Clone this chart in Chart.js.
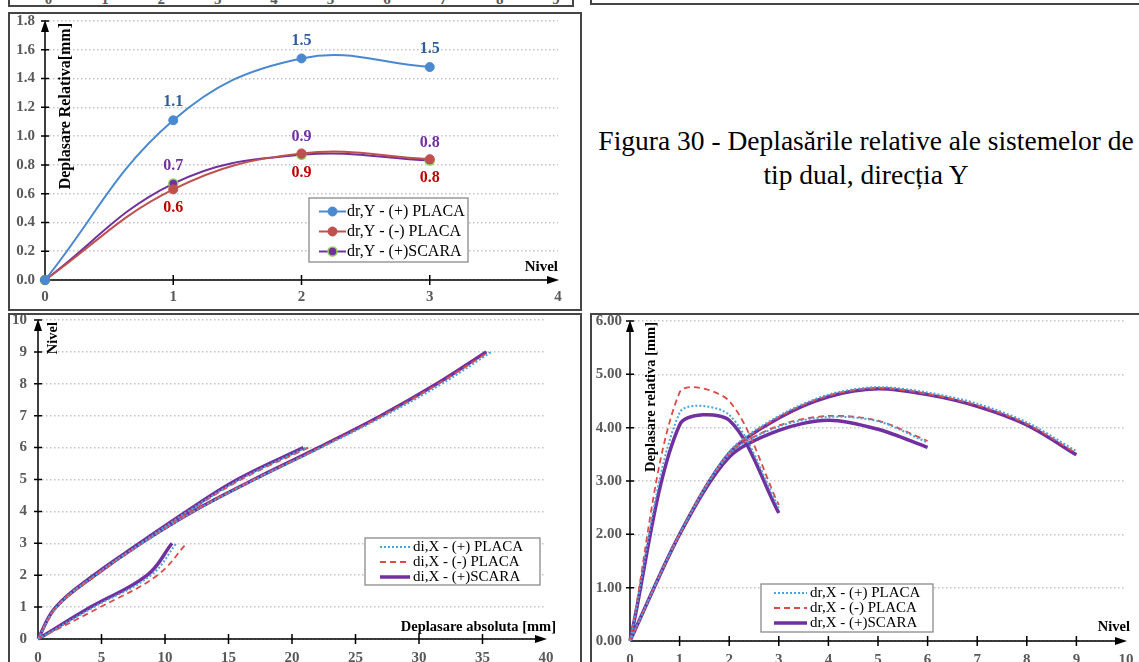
<!DOCTYPE html>
<html>
<head>
<meta charset="utf-8">
<script src="https://cdn.jsdelivr.net/npm/chart.js@4.4.1/dist/chart.umd.min.js"></script>
<style>
  html, body { margin: 0; padding: 0; background: #fff; }
  body { width: 1139px; height: 662px; overflow: hidden; position: relative;
         font-family: "Liberation Serif", "Times New Roman", serif; }
  .frame { position: absolute; border: 2px solid #454545; box-sizing: border-box; background: #fff; overflow: hidden; }
  .frame canvas { position: absolute; left: 0; top: 0; }
  .strip-tick { position: absolute; font: bold 15px "Liberation Serif", serif; color: #595959;
                transform: translateX(-50%); line-height: 16px; }
  #caption { position: absolute; left: 590px; width: 552px; top: 124px; text-align: center;
             font-size: 27.5px; line-height: 34px; color: #000; }
</style>
</head>
<body>
<div class="frame" id="stripL" style="left:8px; top:-40px; width:566px; height:47px;"></div>
<div class="frame" style="left:590px; top:-40px; width:560px; height:45px;"></div>

<div class="frame" style="left:8px; top:12px; width:574px; height:299px;">
  <canvas id="chartDrY" width="570" height="295"></canvas>
</div>
<div id="caption">Figura 30 - Deplasările relative ale sistemelor de<br>tip dual, direcția Y</div>

<div class="frame" style="left:8px; top:313px; width:574px; height:400px;">
  <canvas id="chartDiX" width="570" height="360"></canvas>
</div>
<div class="frame" style="left:590px; top:313px; width:560px; height:400px;">
  <canvas id="chartDrX" width="556" height="360"></canvas>
</div>

<script>
// ---- data ----
// axis labels of the chart cut off above
const stripTicks = ['0', '1', '2', '3', '4', '5', '6', '7', '8', '9'];

// relative drift, direction Y
const nivelY = [0, 1, 2, 3];
const drYPlusPlaca = [0, 1.11, 1.54, 1.48];
const drYMinusPlaca = [0, 0.63, 0.88, 0.84];
const drYPlusScara = [0, 0.67, 0.87, 0.83];
const drYTicksX = [0, 1, 2, 3, 4];
const drYTicksY = [0, 0.2, 0.4, 0.6, 0.8, 1.0, 1.2, 1.4, 1.6, 1.8];

// absolute displacement, direction X (3, 6 and 9 levels)
const nivel3 = [0, 1, 2, 3];
const nivel6 = [0, 1, 2, 3, 4, 5, 6];
const nivel9 = [0, 1, 2, 3, 4, 5, 6, 7, 8, 9];
const diPlus3 = [0, 4.4, 8.9, 10.9];
const diMinus3 = [0, 4.9, 9.4, 11.7];
const diScara3 = [0, 4.15, 8.6, 10.55];
const diPlus6 = [0, 1.45, 4.5, 8.1, 11.8, 15.9, 21.1];
const diMinus6 = [0, 1.5, 4.6, 8.2, 11.9, 16.0, 21.3];
const diScara6 = [0, 1.4, 4.4, 8.0, 11.7, 15.7, 20.9];
const diPlus9 = [0, 1.45, 4.5, 8.2, 12.3, 17.1, 22.3, 27.3, 31.8, 35.7];
const diMinus9 = [0, 1.45, 4.5, 8.2, 12.2, 17.0, 22.2, 27.1, 31.5, 35.5];
const diScara9 = [0, 1.4, 4.5, 8.1, 12.2, 17.0, 22.1, 27.0, 31.4, 35.3];
const diTicksX = [0, 5, 10, 15, 20, 25, 30, 35, 40];
const diTicksY = [0, 1, 2, 3, 4, 5, 6, 7, 8, 9, 10];

// relative drift, direction X
const drPlus3 = [0, 4.28, 4.24, 2.5];
const drMinus3 = [0, 4.66, 4.5, 2.55];
const drScara3 = [0, 4.05, 4.14, 2.4];
const drPlus6 = [0, 2.0, 3.5, 4.02, 4.2, 4.12, 3.72];
const drMinus6 = [0, 2.0, 3.5, 4.04, 4.22, 4.13, 3.75];
const drScara6 = [0, 2.0, 3.45, 3.95, 4.14, 3.97, 3.63];
const drPlus9 = [0, 2.0, 3.55, 4.22, 4.62, 4.76, 4.66, 4.45, 4.1, 3.56];
const drMinus9 = [0, 2.0, 3.52, 4.2, 4.6, 4.74, 4.63, 4.42, 4.07, 3.52];
const drScara9 = [0, 2.0, 3.52, 4.18, 4.58, 4.73, 4.62, 4.40, 4.05, 3.49];
const drTicksX = [0, 1, 2, 3, 4, 5, 6, 7, 8, 9, 10];
const drTicksY = [0, 1, 2, 3, 4, 5, 6];

// ---- helpers ----
const SERIF = '"Liberation Serif", "Times New Roman", serif';
Chart.defaults.font.family = SERIF;
Chart.defaults.color = '#595959';

const BLUE = '#4a89cf', RED = '#c0504d', PURPLE = '#7030a0';
const DOT_BLUE = '#4ba3db', DASH_RED = '#dc4b45';

const pts = (xs, ys) => xs.map((x, i) => ({ x, y: ys[i] }));
// several runs in one dataset, split by a gap
const runs = (...parts) => {
    const out = [];
    parts.forEach((p, k) => {
        if (k) out.push({ x: null, y: null });
        out.push(...p);
    });
    return out;
};

const tickFont = { size: 15, weight: 'bold' };

const makeScales = (cfg) => ({
    x: {
        type: 'linear', min: cfg.xTicks[0], max: cfg.xTicks[cfg.xTicks.length - 1],
        afterBuildTicks: s => { s.ticks = cfg.xTicks.map(v => ({ value: v })); },
        grid: { display: false, drawTicks: false },
        border: { display: false },
        ticks: { font: tickFont, color: '#595959', padding: cfg.xPad, autoSkip: false, maxRotation: 0,
                 callback: v => cfg.xFmt(v) },
        afterFit: s => { s.height = cfg.xHeight; s.paddingLeft = 0; s.paddingRight = 0; }
    },
    y: {
        type: 'linear', min: cfg.yTicks[0], max: cfg.yTicks[cfg.yTicks.length - 1],
        afterBuildTicks: s => { s.ticks = cfg.yTicks.map(v => ({ value: v })); },
        grid: { color: '#c3c3c3', lineWidth: 1.5, drawTicks: false },
        border: { display: false, dash: [1.5, 2.5] },
        ticks: { font: tickFont, color: '#595959', padding: cfg.yPad, autoSkip: false,
                 callback: v => cfg.yFmt(v) },
        afterFit: s => { s.width = cfg.yWidth; s.paddingTop = 0; s.paddingBottom = 0; }
    }
});

// black axes through the origin, with arrow heads, tick crosses and titles inside the plot
const arrowAxes = {
    id: 'arrowAxes',
    beforeDatasetsDraw(chart, args, o) {
        const { ctx, chartArea: a, scales: { x, y } } = chart;
        const x0 = x.getPixelForValue(0), y0 = y.getPixelForValue(0);
        ctx.save();
        ctx.strokeStyle = '#000';
        ctx.fillStyle = '#000';
        ctx.lineWidth = 1.5;
        ctx.beginPath();
        ctx.moveTo(x0, y0); ctx.lineTo(a.right - 6, y0);
        ctx.moveTo(x0, y0); ctx.lineTo(x0, a.top + 6);
        y.ticks.forEach(t => {
            if (t.value === 0) return;
            const p = y.getPixelForValue(t.value);
            ctx.moveTo(x0 - 4, p); ctx.lineTo(x0 + 4, p);
        });
        x.ticks.forEach(t => {
            if (t.value === 0 || t.value === x.max) return;
            const p = x.getPixelForValue(t.value);
            ctx.moveTo(p, y0 - 5); ctx.lineTo(p, y0 + 5);
        });
        ctx.stroke();

        ctx.beginPath();
        ctx.moveTo(a.right + 1, y0); ctx.lineTo(a.right - 11, y0 - 4); ctx.lineTo(a.right - 11, y0 + 4);
        ctx.closePath();
        ctx.moveTo(x0, a.top - 1); ctx.lineTo(x0 - 4, a.top + 11); ctx.lineTo(x0 + 4, a.top + 11);
        ctx.closePath();
        ctx.fill();

        ctx.font = `bold ${o.titleSize}px ${SERIF}`;
        ctx.textBaseline = 'middle';
        ctx.textAlign = 'right';
        ctx.fillText(o.xTitle, a.right + o.xTitleDx, y0 - o.xTitleDy);
        ctx.translate(x0 + o.yTitleDx, a.top + o.yTitleDy);
        ctx.rotate(-Math.PI / 2);
        ctx.font = `bold ${o.yTitleSize || o.titleSize}px ${SERIF}`;
        ctx.fillText(o.yTitle, 0, 0);
        ctx.restore();
    }
};

// legend in a framed box inside the plot
const boxLegend = {
    id: 'boxLegend',
    afterDraw(chart, args, o) {
        const ctx = chart.ctx;
        ctx.save();
        ctx.fillStyle = '#fff';
        ctx.strokeStyle = '#8a8a8a';
        ctx.lineWidth = 1.3;
        ctx.fillRect(o.left, o.top, o.width, o.height);
        ctx.strokeRect(o.left, o.top, o.width, o.height);
        ctx.font = `${o.fontSize}px ${SERIF}`;
        ctx.textBaseline = 'middle';
        ctx.textAlign = 'left';
        chart.data.datasets.forEach((ds, i) => {
            const yy = o.top + o.firstRow + i * o.rowHeight;
            const sx = o.left + o.sampleX;
            ctx.strokeStyle = ds.borderColor;
            ctx.lineWidth = ds.borderWidth;
            ctx.setLineDash(ds.borderDash || []);
            ctx.beginPath();
            ctx.moveTo(sx, yy); ctx.lineTo(sx + o.sampleW, yy);
            ctx.stroke();
            ctx.setLineDash([]);
            if (ds.pointRadius) {
                ctx.beginPath();
                ctx.arc(sx + o.sampleW / 2, yy, ds.pointRadius, 0, Math.PI * 2);
                ctx.fillStyle = ds.pointBackgroundColor;
                ctx.fill();
                ctx.lineWidth = ds.pointBorderWidth;
                ctx.strokeStyle = ds.pointBorderColor;
                ctx.stroke();
            }
            ctx.fillStyle = '#000';
            ctx.fillText(ds.label, o.left + o.textX, yy);
        });
        ctx.restore();
    }
};

// value labels above / below the points
const pointValues = {
    id: 'pointValues',
    afterDatasetsDraw(chart) {
        const ctx = chart.ctx;
        ctx.save();
        ctx.font = `bold 16px ${SERIF}`;
        ctx.textAlign = 'center';
        ctx.textBaseline = 'middle';
        chart.data.datasets.forEach((ds, i) => {
            if (!ds.valueLabel) return;
            ctx.fillStyle = ds.valueLabel.color;
            chart.getDatasetMeta(i).data.forEach((el, j) => {
                const v = ds.data[j].y;
                if (!v) return;
                ctx.fillText(v.toFixed(1), el.x, el.y + ds.valueLabel.dy);
            });
        });
        ctx.restore();
    }
};

const baseOptions = {
    responsive: false,
    animation: false,
    devicePixelRatio: 1,
    events: [],
    elements: { point: { radius: 0 } }
};

// ---- strip of the chart above ----
const strip = document.getElementById('stripL');
stripTicks.forEach((t, i) => {
    const s = document.createElement('span');
    s.className = 'strip-tick';
    s.textContent = t;
    s.style.left = (38.5 + 56.4 * i) + 'px';
    s.style.top = '29px';
    strip.appendChild(s);
});

// ---- dr,Y ----
new Chart(document.getElementById('chartDrY'), {
    type: 'line',
    data: {
        datasets: [
            { label: 'dr,Y - (+) PLACA', data: pts(nivelY, drYPlusPlaca), borderColor: BLUE, borderWidth: 2,
              pointRadius: 4.5, pointBackgroundColor: BLUE, pointBorderColor: BLUE, pointBorderWidth: 1,
              tension: 0.4, clip: false, valueLabel: { color: '#2f5d9b', dy: -18 } },
            { label: 'dr,Y - (-) PLACA', data: pts(nivelY, drYMinusPlaca), borderColor: RED, borderWidth: 2,
              pointRadius: 4.5, pointBackgroundColor: RED, pointBorderColor: RED, pointBorderWidth: 1,
              tension: 0.4, clip: false, valueLabel: { color: '#c00000', dy: 19 } },
            { label: 'dr,Y - (+)SCARA', data: pts(nivelY, drYPlusScara), borderColor: PURPLE, borderWidth: 2,
              pointRadius: 4.5, pointBackgroundColor: PURPLE, pointBorderColor: '#92d050', pointBorderWidth: 1.5,
              tension: 0.4, clip: false, valueLabel: { color: PURPLE, dy: -18 } }
        ]
    },
    options: {
        ...baseOptions,
        layout: { padding: { top: 7, right: 22, left: 0, bottom: 0 } },
        scales: makeScales({
            xTicks: drYTicksX, yTicks: drYTicksY, xFmt: v => String(v), yFmt: v => v.toFixed(1),
            xHeight: 29, yWidth: 35, xPad: 8, yPad: 10
        }),
        plugins: {
            legend: { display: false }, tooltip: { enabled: false },
            arrowAxes: { xTitle: 'Nivel', yTitle: 'Deplasare Relativa[mm]', titleSize: 15, yTitleSize: 16,
                         xTitleDx: 0, xTitleDy: 13, yTitleDx: 21, yTitleDy: 2 },
            boxLegend: { left: 299, top: 184, width: 159, height: 64, firstRow: 13.5, rowHeight: 20,
                         sampleX: 10, sampleW: 27, textX: 38, fontSize: 16 }
        }
    },
    plugins: [arrowAxes, pointValues, boxLegend]
});

// ---- di,X ----
new Chart(document.getElementById('chartDiX'), {
    type: 'line',
    data: {
        datasets: [
            { label: 'di,X - (+) PLACA', data: runs(pts(diPlus3, nivel3), pts(diPlus6, nivel6), pts(diPlus9, nivel9)),
              borderColor: DOT_BLUE, borderWidth: 2, borderDash: [2, 2], tension: 0.4, clip: false, order: 1 },
            { label: 'di,X - (-) PLACA', data: runs(pts(diMinus3, nivel3), pts(diMinus6, nivel6), pts(diMinus9, nivel9)),
              borderColor: DASH_RED, borderWidth: 1.8, borderDash: [6, 4], tension: 0.4, clip: false, order: 2 },
            { label: 'di,X - (+)SCARA', data: runs(pts(diScara3, nivel3), pts(diScara6, nivel6), pts(diScara9, nivel9)),
              borderColor: PURPLE, borderWidth: 3.5, tension: 0.4, clip: false, order: 3 }
        ]
    },
    options: {
        ...baseOptions,
        layout: { padding: { top: 5, right: 34, left: 0, bottom: 0 } },
        scales: makeScales({
            xTicks: diTicksX, yTicks: diTicksY, xFmt: v => String(v), yFmt: v => String(v),
            xHeight: 36, yWidth: 28, xPad: 10, yPad: 11
        }),
        plugins: {
            legend: { display: false }, tooltip: { enabled: false },
            arrowAxes: { xTitle: 'Deplasare absoluta [mm]', yTitle: 'Nivel', titleSize: 14.5,
                         xTitleDx: 10, xTitleDy: 12, yTitleDx: 15, yTitleDy: 2 },
            boxLegend: { left: 355, top: 223, width: 175, height: 47, firstRow: 9, rowHeight: 15,
                         sampleX: 15, sampleW: 30, textX: 48, fontSize: 15 }
        }
    },
    plugins: [arrowAxes, boxLegend]
});

// ---- dr,X ----
new Chart(document.getElementById('chartDrX'), {
    type: 'line',
    data: {
        datasets: [
            { label: 'dr,X - (+) PLACA', data: runs(pts(nivel3, drPlus3), pts(nivel6, drPlus6), pts(nivel9, drPlus9)),
              borderColor: DOT_BLUE, borderWidth: 2, borderDash: [2, 2], tension: 0.3, clip: false, order: 1 },
            { label: 'dr,X - (-) PLACA', data: runs(pts(nivel3, drMinus3), pts(nivel6, drMinus6), pts(nivel9, drMinus9)),
              borderColor: DASH_RED, borderWidth: 1.8, borderDash: [6, 4], tension: 0.3, clip: false, order: 2 },
            { label: 'dr,X - (+)SCARA', data: runs(pts(nivel3, drScara3), pts(nivel6, drScara6), pts(nivel9, drScara9)),
              borderColor: PURPLE, borderWidth: 3.5, tension: 0.3, clip: false, order: 3 }
        ]
    },
    options: {
        ...baseOptions,
        layout: { padding: { top: 6, right: 22, left: 0, bottom: 0 } },
        scales: makeScales({
            xTicks: drTicksX, yTicks: drTicksY, xFmt: v => String(v), yFmt: v => v.toFixed(2),
            xHeight: 34, yWidth: 38, xPad: 10, yPad: 8
        }),
        plugins: {
            legend: { display: false }, tooltip: { enabled: false },
            arrowAxes: { xTitle: 'Nivel', yTitle: 'Deplasare relativa [mm]', titleSize: 14.5,
                         xTitleDx: 4, xTitleDy: 14, yTitleDx: 21, yTitleDy: 1 },
            boxLegend: { left: 169, top: 269, width: 172, height: 48, firstRow: 9, rowHeight: 15,
                         sampleX: 13, sampleW: 33, textX: 49, fontSize: 15 }
        }
    },
    plugins: [arrowAxes, boxLegend]
});
</script>
</body>
</html>
